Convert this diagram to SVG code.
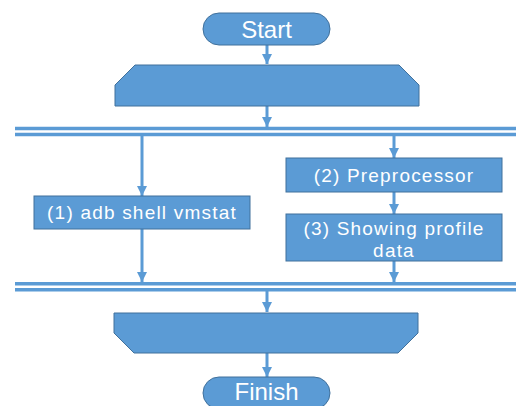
<svg xmlns="http://www.w3.org/2000/svg" width="516" height="406" viewBox="0 0 516 406">
<defs>
<style>
.shape{fill:#5B9BD5;stroke:#41719C;stroke-width:1}
.txt{fill:#FFFFFF;font-family:"Liberation Sans","Noto Sans",sans-serif;text-anchor:middle}
.big{font-size:24px}
.mid{font-size:19px;letter-spacing:1.2px}
.conn{stroke:#5B9BD5;stroke-width:3;fill:none}
.bar{stroke:#5B9BD5;stroke-width:3.5;fill:none}
</style>
<marker id="ah" viewBox="0 0 10 10" refX="10" refY="5" markerWidth="10" markerHeight="10" markerUnits="userSpaceOnUse" orient="auto">
<path d="M0,0 L10,5 L0,10 Z" fill="#5B9BD5"/>
</marker>
</defs>
<rect width="516" height="406" fill="#FFFFFF"/>
<g id="connectors">
<line class="conn" x1="267" y1="45" x2="267" y2="64" marker-end="url(#ah)"/>
<line class="conn" x1="267" y1="106" x2="267" y2="127" marker-end="url(#ah)"/>
<line class="bar" x1="15" y1="128.5" x2="516" y2="128.5"/>
<line class="bar" x1="15" y1="134.5" x2="516" y2="134.5"/>
<line class="conn" x1="142" y1="136" x2="142" y2="196" marker-end="url(#ah)"/>
<line class="conn" x1="394" y1="136" x2="394" y2="158" marker-end="url(#ah)"/>
<line class="conn" x1="394" y1="192" x2="394" y2="214" marker-end="url(#ah)"/>
<line class="conn" x1="142" y1="229" x2="142" y2="282" marker-end="url(#ah)"/>
<line class="conn" x1="394" y1="261" x2="394" y2="282" marker-end="url(#ah)"/>
<line class="bar" x1="15" y1="283.7" x2="516" y2="283.7"/>
<line class="bar" x1="15" y1="289.7" x2="516" y2="289.7"/>
<line class="conn" x1="267" y1="291" x2="267" y2="312" marker-end="url(#ah)"/>
<line class="conn" x1="267" y1="353" x2="267" y2="377" marker-end="url(#ah)"/>
</g>
<g id="start">
<rect class="shape" x="203" y="13" width="127" height="32" rx="16" ry="16"/>
<text class="txt big" x="266.5" y="38">Start</text>
</g>
<g id="loop-start">
<polygon class="shape" points="135,65 399,65 419,85 419,106 115,106 115,85"/>
</g>
<g id="step1">
<rect class="shape" x="34" y="196" width="216" height="33"/>
<text class="txt mid" x="142" y="219">(1) adb shell vmstat</text>
</g>
<g id="step2">
<rect class="shape" x="286" y="158" width="216" height="34"/>
<text class="txt mid" x="394" y="182">(2) Preprocessor</text>
</g>
<g id="step3">
<rect class="shape" x="286" y="214" width="216" height="47"/>
<text class="txt mid" x="394" y="235">(3) Showing profile</text>
<text class="txt mid" x="394" y="257">data</text>
</g>
<g id="loop-end">
<polygon class="shape" points="114,313 418,313 418,333 398,353 134,353 114,333"/>
</g>
<g id="finish">
<rect class="shape" x="203" y="377" width="127" height="32" rx="16" ry="16"/>
<text class="txt big" x="266.5" y="400">Finish</text>
</g>
</svg>
